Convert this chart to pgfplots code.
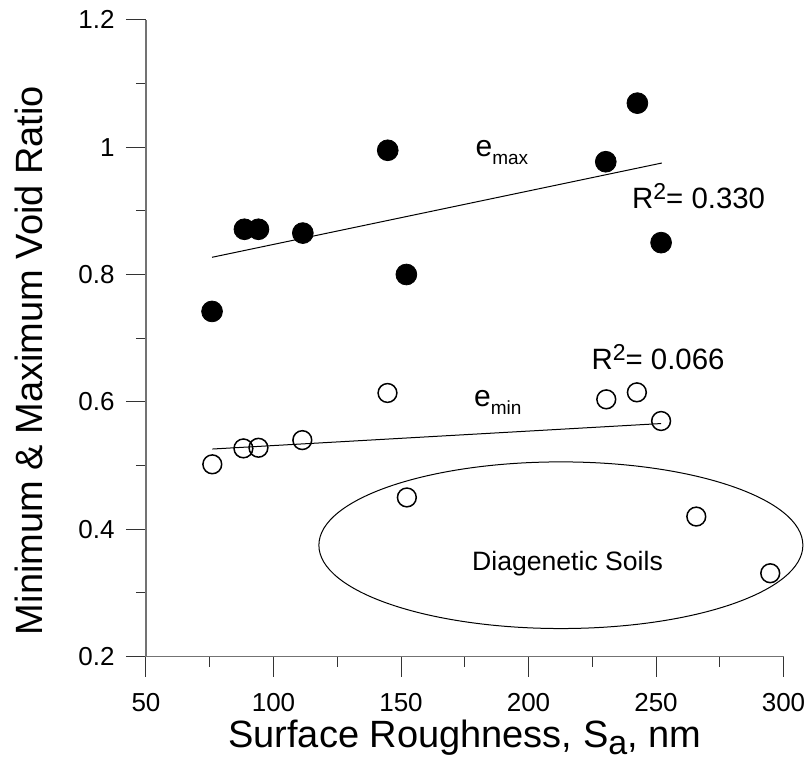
\documentclass[border=0pt]{standalone}
\usepackage{fontspec}
\setmainfont{Liberation Sans}
\usepackage{pgfplots}
\pgfplotsset{compat=1.18}
\begin{document}
\begin{tikzpicture}
\path[use as bounding box] (-73pt,-53.15pt) rectangle (333pt,328.35pt);
\begin{axis}[
  at={(0,0)}, anchor=south west,
  scale only axis, width=318.75pt, height=318.5pt,
  xmin=50, xmax=300, ymin=0.2, ymax=1.2,
  axis x line*=bottom, axis y line*=left,
  axis line style={black!55, line width=0.7pt},
  xtick={50,100,150,200,250,300},
  xticklabels={50,100,150,200,250,300},
  ytick={0.2,0.4,0.6,0.8,1,1.2},
  yticklabels={0.2,0.4,0.6,0.8,1,1.2},
  minor x tick num=1, minor y tick num=1,
  tick align=outside,
  major tick length=10pt, minor tick length=5pt,
  every tick/.style={black!80, line width=0.5pt},
  tick label style={font=\fontsize{13}{15}\selectfont},
  xticklabel style={yshift=-5pt},
  yticklabel style={xshift=-2.2pt},
  xlabel={Surface Roughness, S\raisebox{-0.18em}{\fontsize{17}{19}\selectfont a}, nm},
  ylabel={Minimum \& Maximum Void Ratio},
  xlabel style={font=\fontsize{19}{22}\selectfont, at={(axis description cs:0.5,-0.1433)}, anchor=base},
  ylabel style={font=\fontsize{19}{22}\selectfont, at={(axis description cs:-0.163,0.465)}, anchor=base},
  clip=false,
]
\addplot[only marks, mark=*, mark size=5.2pt, mark options={draw=black, fill=black}]
  table {
  x y
  75.9 0.742
  88.6 0.871
  94.1 0.871
  111.5 0.865
  144.8 0.995
  152.1 0.800
  230.3 0.977
  242.7 1.069
  252.0 0.850
  };
\addplot[only marks, mark=o, mark size=4.7pt, mark options={draw=black, line width=0.75pt, fill=none}]
  table {
  x y
  76.0 0.502
  88.2 0.527
  94.1 0.528
  111.3 0.540
  144.7 0.614
  152.3 0.450
  230.5 0.604
  242.5 0.615
  252.0 0.570
  265.8 0.420
  294.8 0.331
  };
\addplot[black, line width=0.5pt, no marks] coordinates {(75.9,0.827) (252.3,0.975)};
\addplot[black, line width=0.5pt, no marks] coordinates {(76.0,0.526) (252.0,0.566)};
\draw[black, line width=0.5pt] (axis cs:212.7,0.375) ellipse [x radius=94.9, y radius=0.1308];
\node[anchor=base west, inner sep=0, font=\fontsize{15}{16}\selectfont] at (axis cs:179.1,0.985) {e\raisebox{-0.25em}{\fontsize{9.5}{10}\selectfont max}};
\node[anchor=base west, inner sep=0, font=\fontsize{15}{16}\selectfont] at (axis cs:178.5,0.5925) {e\raisebox{-0.25em}{\fontsize{9.5}{10}\selectfont min}};
\node[anchor=base west, inner sep=0, font=\fontsize{14.7}{16}\selectfont] at (axis cs:240.5,0.904) {R\raisebox{0.3em}{\fontsize{11.5}{12}\selectfont 2}= 0.330};
\node[anchor=base west, inner sep=0, font=\fontsize{14.7}{16}\selectfont] at (axis cs:224.6,0.651) {R\raisebox{0.3em}{\fontsize{11.5}{12}\selectfont 2}= 0.066};
\node[anchor=base, inner sep=0, font=\fontsize{13.3}{15}\selectfont] at (axis cs:215.3,0.336) {Diagenetic Soils};
\end{axis}
\end{tikzpicture}
\end{document}
